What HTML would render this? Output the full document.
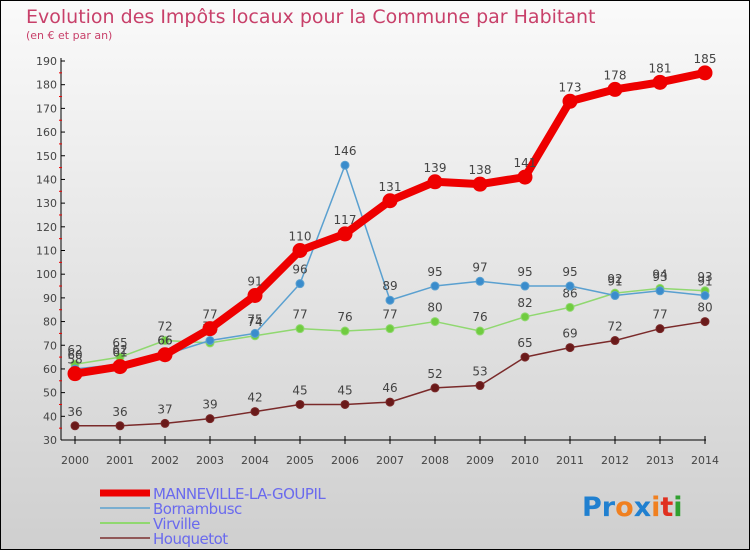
<!DOCTYPE html>
<html><head><meta charset="utf-8"><style>
body{margin:0;width:750px;height:550px;overflow:hidden;font-family:"DejaVu Sans","Liberation Sans",sans-serif}
#wrap{position:absolute;left:0;top:0;width:748px;height:548px;border:1px solid #000;background:linear-gradient(#fafafa,#cfcfcf)}
</style></head><body>
<div id="wrap">
<svg id="chart" width="750" height="550" style="position:absolute;left:-1px;top:-1px"></svg>
</div>
<script>
const years=["2000","2001","2002","2003","2004","2005","2006","2007","2008","2009","2010","2011","2012","2013","2014"];
const manneville=[58,61,66,77,91,110,117,131,139,138,141,173,178,181,185];
const bornambusc=[60,62,66,72,75,96,146,89,95,97,95,95,91,93,91];
const virville=[62,65,72,71,74,77,76,77,80,76,82,86,92,94,93];
const houquetot=[36,36,37,39,42,45,45,46,52,53,65,69,72,77,80];
const yTicks=[30,40,50,60,70,80,90,100,110,120,130,140,150,160,170,180,190];
const NS="http://www.w3.org/2000/svg";
const svg=document.getElementById('chart');
const X=i=>75+i*45;
const Y=v=>440-(v-30)*(379/160);
function el(t,a,p){const e=document.createElementNS(NS,t);for(const k in a)e.setAttribute(k,a[k]);(p||svg).appendChild(e);return e;}
function txt(s,a){const e=el('text',a);e.textContent=s;return e;}
let t=txt("Evolution des Impôts locaux pour la Commune par Habitant",{x:26,y:23,fill:"#c8406a","font-size":19});

t=txt("(en € et par an)",{x:26,y:39,fill:"#c8406a","font-size":11});

// axes
let a=el('line',{x1:61,y1:58,x2:61,y2:440,stroke:"#000"});
a=el('line',{x1:61,y1:440,x2:706,y2:440,stroke:"#000"});
yTicks.forEach(v=>{el('line',{x1:61,y1:Y(v),x2:65,y2:Y(v),stroke:"#000"});
 if(v<190)el('line',{x1:59,y1:Y(v+5),x2:62,y2:Y(v+5),stroke:"#e00"});
 const l=txt(String(v),{x:57,y:Y(v)+4,"text-anchor":"end","font-size":11,fill:"#444"});
 });
years.forEach((y,i)=>{el('line',{x1:X(i),y1:436,x2:X(i),y2:444,stroke:"#000"});
 const l=txt(y,{x:X(i),y:464,"text-anchor":"middle","font-size":11,fill:"#444"});
 });
function series(data,name,color,w,r,dot){
 const g=el('g',{});
 el('polyline',{points:data.map((v,i)=>X(i)+','+Y(v)).join(' '),fill:"none",stroke:color,"stroke-width":w,"stroke-linejoin":"round"},g);
 data.forEach((v,i)=>{const c=el('circle',{cx:X(i),cy:Y(v),r:r,fill:dot,stroke:color,"stroke-width":1},g);
  
  const l=el('text',{x:X(i),y:Y(v)-10,"text-anchor":"middle","font-size":12,fill:"#444"},g);l.textContent=v;
  });
}
series(houquetot,'houquetot',"#7a2a2a",1.5,4,"#6a1a1a");
series(virville,'virville',"#90d870",1.5,4,"#70cc40");
series(bornambusc,'bornambusc',"#5aa0d0",1.5,4,"#3a8ccc");
series(manneville,'manneville',"#ee0000",8,7,"#ee0000");
// legend
const leg=[["MANNEVILLE-LA-GOUPIL","#ee0000",7],["Bornambusc","#7aaed0",2],["Virville","#90d870",2],["Houquetot","#905858",2]];
leg.forEach((d,i)=>{const y=493+i*15;
 const g=el('g',{});
 el('line',{x1:100,y1:y,x2:150,y2:y,stroke:d[1],"stroke-width":d[2]},g);
 const l=el('text',{x:153,y:y+6,"font-size":15,fill:"#6a6aee","letter-spacing":"-0.5"},g);l.textContent=d[0];});
// logo
const lg=el('text',{x:582,y:516,"font-size":27,"font-weight":"bold"});
[["P","#2080d0"],["r","#2080d0"],["o","#f08020"],["x","#2080d0"],["i","#f08020"],["t","#e03020"],["i","#30a030"]].forEach(c=>{const s=el('tspan',{fill:c[1]},lg);s.textContent=c[0];});
</script>
</body></html>
